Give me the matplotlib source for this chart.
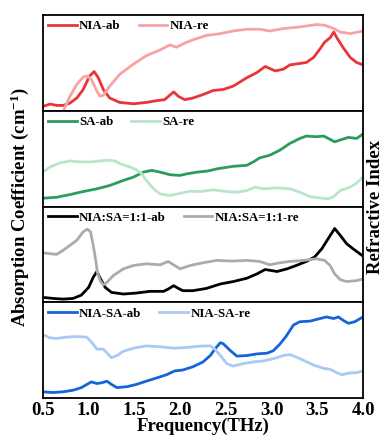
import matplotlib
matplotlib.use("Agg")
import matplotlib.pyplot as plt

plt.rcParams['font.family'] = ['Liberation Serif', 'DejaVu Serif']
plt.rcParams['font.weight'] = 'bold'
plt.rcParams['mathtext.fontset'] = 'custom'
plt.rcParams['mathtext.rm'] = 'Liberation Serif:bold'
plt.rcParams['mathtext.it'] = 'Liberation Serif:bold'
plt.rcParams['mathtext.bf'] = 'Liberation Serif:bold'
plt.rcParams['mathtext.default'] = 'bf'

# Panel 1: NIA
nia_ab_x = [0.50, 0.577, 0.65, 0.72, 0.795, 0.87, 0.94, 1.01, 1.06, 1.105, 1.16, 1.23, 1.34, 1.49, 1.63, 1.74, 1.83, 1.93, 1.98, 2.05, 2.14, 2.25, 2.36, 2.47, 2.58, 2.73, 2.84, 2.93, 3.04, 3.13, 3.20, 3.31, 3.38, 3.46, 3.53, 3.58, 3.64, 3.68, 3.71, 3.78, 3.86, 3.93, 4.0]
nia_ab_y = [0.046, 0.071, 0.057, 0.057, 0.081, 0.134, 0.223, 0.364, 0.41, 0.346, 0.223, 0.134, 0.088, 0.074, 0.088, 0.106, 0.117, 0.198, 0.152, 0.117, 0.134, 0.17, 0.212, 0.223, 0.258, 0.346, 0.40, 0.463, 0.417, 0.435, 0.48, 0.495, 0.505, 0.558, 0.647, 0.717, 0.763, 0.823, 0.77, 0.664, 0.558, 0.505, 0.48]
nia_re_x = [0.72, 0.795, 0.87, 0.94, 0.985, 1.03, 1.09, 1.125, 1.16, 1.23, 1.34, 1.49, 1.63, 1.78, 1.89, 1.96, 2.05, 2.14, 2.29, 2.44, 2.58, 2.73, 2.87, 2.98, 3.13, 3.31, 3.49, 3.58, 3.68, 3.75, 3.86, 4.0]
nia_re_y = [-0.007, 0.152, 0.276, 0.353, 0.364, 0.329, 0.205, 0.152, 0.163, 0.258, 0.382, 0.488, 0.576, 0.636, 0.689, 0.664, 0.707, 0.742, 0.788, 0.806, 0.834, 0.852, 0.852, 0.834, 0.859, 0.876, 0.901, 0.894, 0.859, 0.823, 0.806, 0.834]

# Panel 2: SA
sa_ab_x = [0.50, 0.65, 0.795, 0.94, 1.09, 1.23, 1.38, 1.49, 1.60, 1.69, 1.78, 1.89, 1.998, 2.08, 2.19, 2.30, 2.41, 2.58, 2.73, 2.80, 2.87, 2.98, 3.09, 3.20, 3.31, 3.38, 3.49, 3.57, 3.62, 3.69, 3.77, 3.84, 3.93, 4.0]
sa_ab_y = [0.088, 0.098, 0.126, 0.158, 0.186, 0.221, 0.274, 0.309, 0.361, 0.379, 0.361, 0.333, 0.326, 0.344, 0.361, 0.372, 0.396, 0.421, 0.432, 0.467, 0.509, 0.537, 0.589, 0.66, 0.712, 0.737, 0.73, 0.737, 0.712, 0.677, 0.702, 0.723, 0.712, 0.758]
sa_re_x = [0.50, 0.577, 0.686, 0.795, 0.905, 1.01, 1.12, 1.23, 1.29, 1.34, 1.45, 1.52, 1.58, 1.63, 1.71, 1.78, 1.89, 2.0, 2.11, 2.22, 2.36, 2.51, 2.62, 2.73, 2.82, 2.91, 3.06, 3.20, 3.31, 3.42, 3.53, 3.62, 3.68, 3.75, 3.86, 3.93, 4.0]
sa_re_y = [0.361, 0.414, 0.456, 0.477, 0.467, 0.467, 0.477, 0.484, 0.477, 0.449, 0.414, 0.386, 0.344, 0.274, 0.186, 0.133, 0.116, 0.14, 0.161, 0.158, 0.175, 0.158, 0.151, 0.168, 0.204, 0.186, 0.196, 0.186, 0.151, 0.105, 0.091, 0.081, 0.105, 0.168, 0.204, 0.246, 0.309]

# Panel 3: NIA:SA=1:1
mix_ab_x = [0.50, 0.61, 0.72, 0.83, 0.92, 1.0, 1.05, 1.09, 1.12, 1.18, 1.25, 1.38, 1.52, 1.67, 1.82, 1.87, 1.93, 1.98, 2.03, 2.14, 2.29, 2.44, 2.58, 2.73, 2.84, 2.93, 3.06, 3.17, 3.27, 3.38, 3.47, 3.55, 3.62, 3.69, 3.75, 3.82, 3.89, 4.0]
mix_ab_y = [0.053, 0.042, 0.035, 0.042, 0.077, 0.158, 0.263, 0.323, 0.263, 0.158, 0.105, 0.088, 0.098, 0.116, 0.116, 0.14, 0.175, 0.147, 0.123, 0.123, 0.147, 0.193, 0.218, 0.253, 0.298, 0.344, 0.323, 0.351, 0.386, 0.428, 0.474, 0.561, 0.667, 0.772, 0.702, 0.614, 0.561, 0.484]
mix_re_x = [0.50, 0.577, 0.65, 0.72, 0.795, 0.87, 0.94, 0.985, 1.02, 1.05, 1.08, 1.095, 1.125, 1.16, 1.2, 1.27, 1.38, 1.49, 1.63, 1.78, 1.87, 1.94, 2.0, 2.11, 2.25, 2.40, 2.58, 2.73, 2.87, 2.98, 3.09, 3.20, 3.35, 3.49, 3.58, 3.64, 3.69, 3.75, 3.82, 3.93, 4.0]
mix_re_y = [0.519, 0.509, 0.502, 0.544, 0.596, 0.649, 0.737, 0.765, 0.737, 0.596, 0.421, 0.316, 0.228, 0.182, 0.211, 0.281, 0.351, 0.386, 0.404, 0.393, 0.428, 0.386, 0.351, 0.386, 0.414, 0.439, 0.432, 0.439, 0.428, 0.393, 0.414, 0.428, 0.439, 0.456, 0.439, 0.386, 0.298, 0.239, 0.218, 0.228, 0.246]

# Panel 4: NIA-SA
nsa_ab_x = [0.50, 0.61, 0.72, 0.83, 0.92, 0.98, 1.03, 1.09, 1.14, 1.2, 1.25, 1.31, 1.42, 1.52, 1.63, 1.74, 1.85, 1.94, 2.03, 2.14, 2.25, 2.33, 2.38, 2.44, 2.47, 2.55, 2.62, 2.73, 2.84, 2.95, 3.02, 3.09, 3.16, 3.24, 3.31, 3.42, 3.53, 3.60, 3.68, 3.73, 3.78, 3.84, 3.91, 4.0]
nsa_ab_y = [0.067, 0.06, 0.067, 0.084, 0.111, 0.144, 0.171, 0.154, 0.161, 0.178, 0.144, 0.111, 0.121, 0.144, 0.178, 0.211, 0.245, 0.285, 0.295, 0.329, 0.379, 0.446, 0.513, 0.58, 0.57, 0.497, 0.44, 0.446, 0.463, 0.47, 0.497, 0.564, 0.648, 0.765, 0.799, 0.805, 0.832, 0.849, 0.832, 0.849, 0.815, 0.782, 0.799, 0.849]
nsa_re_x = [0.50, 0.577, 0.65, 0.76, 0.87, 0.98, 1.05, 1.09, 1.16, 1.21, 1.25, 1.31, 1.38, 1.49, 1.63, 1.78, 1.93, 2.07, 2.22, 2.33, 2.38, 2.44, 2.51, 2.58, 2.69, 2.80, 2.91, 3.02, 3.13, 3.20, 3.27, 3.35, 3.46, 3.57, 3.64, 3.71, 3.77, 3.84, 3.93, 4.0]
nsa_re_y = [0.664, 0.631, 0.624, 0.638, 0.644, 0.638, 0.564, 0.513, 0.513, 0.463, 0.423, 0.446, 0.49, 0.523, 0.547, 0.537, 0.523, 0.53, 0.544, 0.547, 0.513, 0.446, 0.362, 0.336, 0.362, 0.379, 0.389, 0.413, 0.446, 0.456, 0.43, 0.396, 0.346, 0.312, 0.302, 0.268, 0.245, 0.262, 0.268, 0.285]

xtick_vals = [0.5, 1.0, 1.5, 2.0, 2.5, 3.0, 3.5, 4.0]
xtick_labels = ["0.5", "1.0", "1.5", "2.0", "2.5", "3.0", "3.5", "4.0"]

panels = [
    ("NIA-ab", nia_ab_x, nia_ab_y, "#e8353a", "NIA-re", nia_re_x, nia_re_y, "#f7a3a3"),
    ("SA-ab", sa_ab_x, sa_ab_y, "#2a9d5c", "SA-re", sa_re_x, sa_re_y, "#b9e6c9"),
    ("NIA:SA=1:1-ab", mix_ab_x, mix_ab_y, "#000000", "NIA:SA=1:1-re", mix_re_x, mix_re_y, "#ababab"),
    ("NIA-SA-ab", nsa_ab_x, nsa_ab_y, "#1565d8", "NIA-SA-re", nsa_re_x, nsa_re_y, "#a9c9f7"),
]

fig = plt.figure(figsize=(3.87, 4.43), dpi=100)
axes = fig.subplots(4, 1, sharex=True, gridspec_kw=dict(hspace=0))
fig.subplots_adjust(left=0.111, right=0.938, top=0.966, bottom=0.101)

for ax, (l1, x1, y1, c1, l2, x2, y2, c2) in zip(axes, panels):
    ax.plot(x1, y1, color=c1, lw=2, label=l1)
    ax.plot(x2, y2, color=c2, lw=2, label=l2)
    ax.set_xlim(0.5, 4.0)
    ax.set_ylim(0, 1.0)
    ax.set_yticks([])
    for s in ax.spines.values():
        s.set_linewidth(1.3)
    ax.tick_params(axis='x', length=0)
    ax.legend(loc='upper left', ncol=2, frameon=False,
              handlelength=2.2, handletextpad=0.2, columnspacing=1.4,
              borderaxespad=0.1, borderpad=0.3,
              prop={'weight': 'bold', 'size': 9.3})

axes[-1].set_xticks(xtick_vals)
axes[-1].set_xticklabels(xtick_labels, fontsize=13.5, fontweight='bold')
axes[-1].tick_params(axis='x', length=0, pad=3)
axes[-1].set_xlabel("Frequency(THz)", fontsize=13.5, fontweight='bold', labelpad=-1)

fig.text(0.052, 0.532, r"Absorption Coefficient (cm$^{-1}$)", rotation=90,
         ha='center', va='center', fontsize=13.5, fontweight='bold')
fig.text(0.971, 0.532, "Refractive Index", rotation=90,
         ha='center', va='center', fontsize=13.5, fontweight='bold')

fig.savefig("out.png", dpi=100)
